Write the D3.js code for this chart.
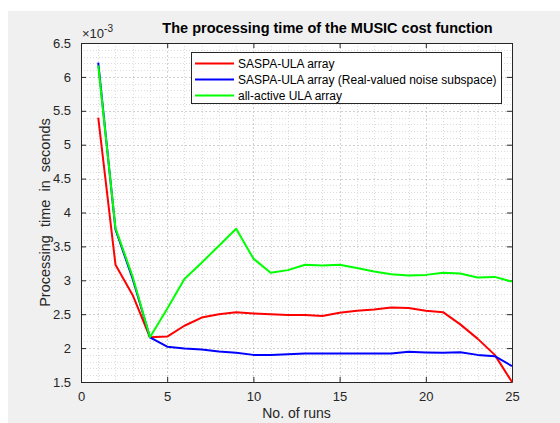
<!DOCTYPE html>
<html>
<head>
<meta charset="utf-8">
<script src="https://cdn.jsdelivr.net/npm/d3@7"></script>
<style>
  html, body { margin: 0; padding: 0; background: #ffffff; }
  svg { display: block; }
  text { font-family: "Liberation Sans", Arial, Helvetica, sans-serif; }
</style>
</head>
<body>
<svg id="chart" width="560" height="423"></svg>
<script>
// ---- data (values in units of 1e-3 s) ----
const runs = [1,2,3,4,5,6,7,8,9,10,11,12,13,14,15,16,17,18,19,20,21,22,23,24,25];
const saspaUla = [5.40,3.23,2.78,2.16,2.17,2.33,2.45,2.50,2.53,2.51,2.50,2.49,2.49,2.475,2.52,2.55,2.57,2.60,2.59,2.55,2.53,2.35,2.14,1.90,1.50];
const saspaUlaReal = [6.21,3.75,3.02,2.16,2.02,1.995,1.98,1.95,1.93,1.90,1.90,1.91,1.92,1.92,1.92,1.92,1.92,1.92,1.945,1.935,1.93,1.94,1.90,1.88,1.735];
const allActiveUla = [6.17,3.77,3.05,2.16,2.58,3.02,3.26,3.51,3.76,3.32,3.11,3.15,3.23,3.22,3.23,3.18,3.13,3.09,3.07,3.08,3.11,3.10,3.04,3.05,2.98];
const seriesNames = ["SASPA-ULA array", "SASPA-ULA array (Real-valued noise subspace)", "all-active ULA array"];
const seriesColors = ["#ff0000", "#0000ff", "#00ff00"];
const xTicks = [0,5,10,15,20,25];
const yTicks = [1.5,2,2.5,3,3.5,4,4.5,5,5.5,6,6.5];
const titleText = "The processing time of the MUSIC cost function";
const xLabelText = "No. of runs";
const yLabelText = "Processing  time  in  seconds";

// ---- layout ----
const svg = d3.select("#chart");
const L = 81, R = 512, T = 43, B = 382;
const axisColor = "#262626";

// figure background
svg.append("rect").attr("x", 8).attr("y", 11).attr("width", 552).attr("height", 412).attr("fill", "#f0f0f0");

const x = d3.scaleLinear().domain([0, 25]).range([L, R]);
const y = d3.scaleLinear().domain([1.5, 6.5]).range([B, T]);

// plot area
svg.append("rect").attr("x", L).attr("y", T).attr("width", R - L).attr("height", B - T).attr("fill", "#ffffff");

// minor grid
const g = svg.append("g");
const xMinor = d3.range(0, 26, 1).filter(v => v % 5 !== 0);
const yMinor = d3.range(15, 66, 1).map(v => v / 10).filter(v => Math.abs(v * 2 - Math.round(v * 2)) > 1e-6);
g.selectAll(".xm").data(xMinor).enter().append("line")
  .attr("x1", d => Math.round(x(d)) + 0.5).attr("x2", d => Math.round(x(d)) + 0.5)
  .attr("y1", T).attr("y2", B)
  .attr("stroke", "#dcdcdc").attr("stroke-width", 1).attr("stroke-dasharray", "1,2");
g.selectAll(".ym").data(yMinor).enter().append("line")
  .attr("y1", d => Math.round(y(d)) + 0.5).attr("y2", d => Math.round(y(d)) + 0.5)
  .attr("x1", L).attr("x2", R)
  .attr("stroke", "#dcdcdc").attr("stroke-width", 1).attr("stroke-dasharray", "1,2");
// major grid
g.selectAll(".xg").data(xTicks.slice(1, -1)).enter().append("line")
  .attr("x1", d => Math.round(x(d)) + 0.5).attr("x2", d => Math.round(x(d)) + 0.5)
  .attr("y1", T).attr("y2", B)
  .attr("stroke", "#d0d0d0").attr("stroke-width", 1).attr("stroke-dasharray", "2,2");
g.selectAll(".yg").data(yTicks.slice(1, -1)).enter().append("line")
  .attr("y1", d => Math.round(y(d)) + 0.5).attr("y2", d => Math.round(y(d)) + 0.5)
  .attr("x1", L).attr("x2", R)
  .attr("stroke", "#d0d0d0").attr("stroke-width", 1).attr("stroke-dasharray", "2,2");

// axes
const fmt = d3.format("");
const xAxisB = d3.axisBottom(x).tickValues(xTicks).tickFormat(fmt).tickSizeInner(-5).tickSizeOuter(0).tickPadding(10);
const xAxisT = d3.axisTop(x).tickValues(xTicks).tickFormat("").tickSizeInner(-5).tickSizeOuter(0);
const yAxisL = d3.axisLeft(y).tickValues(yTicks).tickFormat(fmt).tickSizeInner(-5).tickSizeOuter(0).tickPadding(10);
const yAxisR = d3.axisRight(y).tickValues(yTicks).tickFormat("").tickSizeInner(-5).tickSizeOuter(0);

function styleAxis(sel) {
  sel.selectAll("path").attr("stroke", axisColor);
  sel.selectAll("line").attr("stroke", axisColor);
  sel.selectAll("text").attr("fill", axisColor).style("font-size", "13px")
     .style("font-family", "'Liberation Sans', Arial, sans-serif");
}
svg.append("g").attr("transform", `translate(0,${B})`).call(xAxisB).call(styleAxis);
svg.append("g").attr("transform", `translate(0,${T})`).call(xAxisT).call(styleAxis);
svg.append("g").attr("transform", `translate(${L},0)`).call(yAxisL).call(styleAxis);
svg.append("g").attr("transform", `translate(${R},0)`).call(yAxisR).call(styleAxis);

// series
const allSeries = [saspaUla, saspaUlaReal, allActiveUla];
const line = d3.line().x(d => x(d[0])).y(d => y(d[1]));
allSeries.forEach((vals, i) => {
  svg.append("path")
    .datum(runs.map((r, k) => [r, vals[k]]))
    .attr("d", line)
    .attr("fill", "none")
    .attr("stroke", seriesColors[i])
    .attr("stroke-width", 2)
    .attr("stroke-linejoin", "round");
});

// title
svg.append("text").attr("x", (L + R) / 2 + 31).attr("y", 33).attr("text-anchor", "middle")
  .style("font-size", "14.5px").style("font-weight", "bold").attr("fill", "#000").text(titleText);

// exponent label
const ex = svg.append("text").attr("x", 82).attr("y", 38).attr("fill", axisColor).style("font-size", "13px");
ex.append("tspan").text("\u00d710");
ex.append("tspan").attr("dy", -6).style("font-size", "10px").text("-3");

// axis labels
svg.append("text").attr("x", (L + R) / 2) .attr("y", 418).attr("text-anchor", "middle")
  .attr("fill", axisColor).style("font-size", "14px").text(xLabelText);
svg.append("text").attr("transform", `translate(50,${(T + B) / 2}) rotate(-90)`).attr("text-anchor", "middle")
  .attr("fill", axisColor).style("font-size", "14.5px").style("white-space", "pre").attr("xml:space", "preserve").text(yLabelText);

// legend
const lg = svg.append("g");
lg.append("rect").attr("x", 191.5).attr("y", 52.5).attr("width", 310).attr("height", 51)
  .attr("fill", "#ffffff").attr("stroke", axisColor).attr("stroke-width", 1);
seriesNames.forEach((name, i) => {
  const yy = 63.5 + i * 16;
  lg.append("line").attr("x1", 195).attr("x2", 234).attr("y1", yy).attr("y2", yy)
    .attr("stroke", seriesColors[i]).attr("stroke-width", 2);
  lg.append("text").attr("x", 238).attr("y", yy + 4.5).attr("fill", "#000")
    .style("font-size", "12px").text(name);
});
</script>
</body>
</html>
